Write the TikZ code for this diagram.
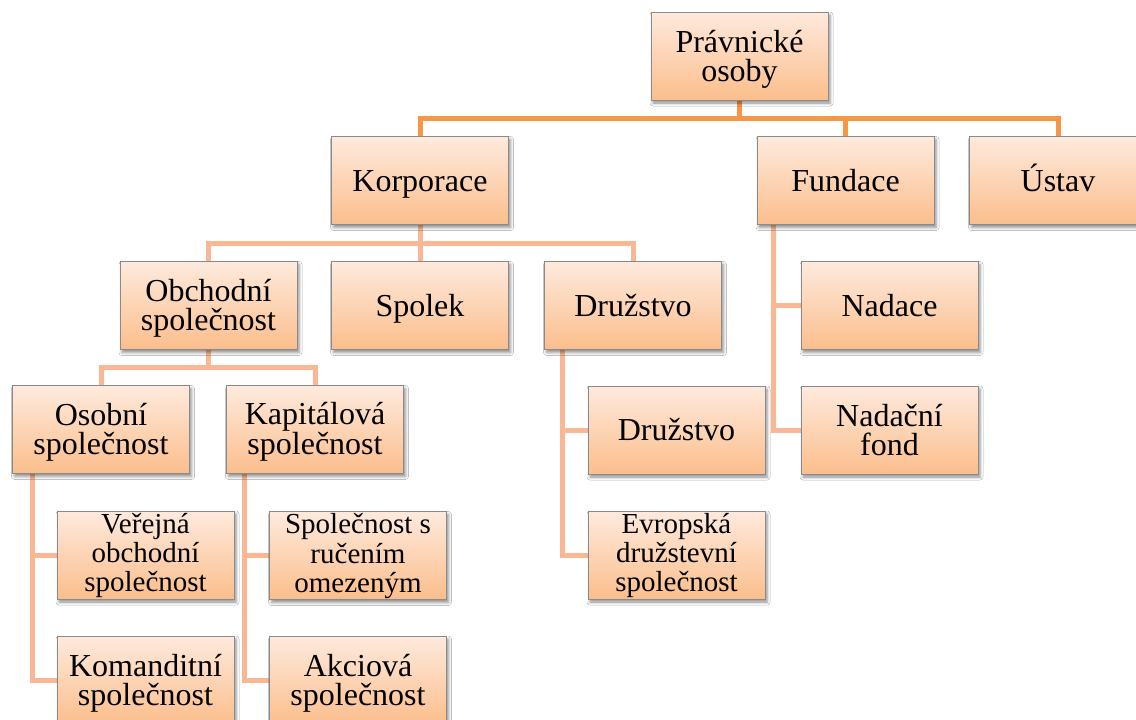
\documentclass[tikz,border=0pt]{standalone}
\usepackage{fontspec}
\setmainfont{Liberation Serif}
\usetikzlibrary{shadows.blur}
\definecolor{boxtop}{HTML}{FEEADD}
\definecolor{boxbot}{HTML}{FBBE8C}
\definecolor{boxline}{HTML}{8A8A8A}
\definecolor{linkdark}{HTML}{F79646}
\definecolor{linklight}{HTML}{F9B893}
\tikzset{
  slot/.style={minimum width=177pt, minimum height=88pt, inner sep=0pt},
  box/.style={slot, draw=boxline, line width=1pt, top color=boxtop, bottom color=boxbot,
    align=center, font=\fontsize{32}{29}\selectfont,
    blur shadow={shadow xshift=2pt, shadow yshift=-3pt, shadow blur radius=3pt, shadow opacity=45}},
  % fixed text extents keep the last baseline at the same place in every box
  oneline/.style={box, text height=21pt, text depth=0pt},
  twoline/.style={box, text height=50pt, text depth=0pt},
  threeline/.style={box, font=\fontsize{29}{29.2}\selectfont, text height=73.4pt, text depth=0pt},
  toplink/.style={draw=linkdark, line width=5pt},
  sublink/.style={draw=linklight, line width=5pt},
}
\begin{document}
\begin{tikzpicture}[x=1pt,y=-1pt]
\useasboundingbox (0,0) rectangle (1136,720);
\clip (0,0) rectangle (1136,720);
\fill[white] (0,0) rectangle (1136,720);

% centres of the boxes
\coordinate (cpo) at (739.5,56);
\coordinate (ckor) at (420,180.5);
\coordinate (cfun) at (845.5,180.5);
\coordinate (cust) at (1058,180.5);
\coordinate (cobch) at (208.5,305.5);
\coordinate (cspol) at (420,305.5);
\coordinate (cdruz) at (633,305.5);
\coordinate (cnad) at (889.5,305.5);
\coordinate (cosob) at (101,429.5);
\coordinate (ckap) at (315,429.5);
\coordinate (cdruzb) at (676.5,430);
\coordinate (cnf) at (889.5,430);
\coordinate (cver) at (145.5,555);
\coordinate (csro) at (358,555.5);
\coordinate (cevr) at (676.5,555);
\coordinate (ckom) at (145.5,680);
\coordinate (cakc) at (358,680);

% empty slots give the connectors their anchors
\path
  (cpo) node[slot] (po) {}
  (ckor) node[slot] (kor) {}
  (cfun) node[slot] (fun) {}
  (cust) node[slot] (ust) {}
  (cobch) node[slot] (obch) {}
  (cspol) node[slot] (spol) {}
  (cdruz) node[slot] (druz) {}
  (cnad) node[slot] (nad) {}
  (cosob) node[slot] (osob) {}
  (ckap) node[slot] (kap) {}
  (cdruzb) node[slot] (druzb) {}
  (cnf) node[slot] (nf) {}
  (cver) node[slot] (ver) {}
  (csro) node[slot] (sro) {}
  (cevr) node[slot] (evr) {}
  (ckom) node[slot] (kom) {}
  (cakc) node[slot] (akc) {};

% connectors
\draw[toplink] (po.south) -- ++(0,18.5) -| (kor.north);
\draw[toplink] (po.south) -- ++(0,18.5) -| (fun.north);
\draw[toplink] (po.south) -- ++(0,18.5) -| (ust.north);

\draw[sublink] (kor.south) -- ++(0,19) -| (obch.north);
\draw[sublink] (kor.south) -- (spol.north);
\draw[sublink] (kor.south) -- ++(0,19) -| (druz.north);

\draw[sublink] (obch.south) -- ++(0,18) -| (osob.north);
\draw[sublink] (obch.south) -- ++(0,18) -| (kap.north);

\draw[sublink] ([xshift=17pt]fun.south west) |- (nad.west);
\draw[sublink] ([xshift=17pt]fun.south west) |- (nf.west);

\draw[sublink] ([xshift=18pt]druz.south west) |- (druzb.west);
\draw[sublink] ([xshift=18pt]druz.south west) |- (evr.west);

\draw[sublink] ([xshift=20pt]osob.south west) |- (ver.west);
\draw[sublink] ([xshift=20pt]osob.south west) |- (kom.west);

\draw[sublink] ([xshift=18pt]kap.south west) |- (sro.west);
\draw[sublink] ([xshift=18pt]kap.south west) |- (akc.west);

% boxes
\node[twoline] at (cpo) {Právnické\\osoby};
\node[oneline] at (ckor) {Korporace};
\node[oneline] at (cfun) {Fundace};
\node[oneline] at (cust) {Ústav};
\node[twoline] at (cobch) {Obchodní\\společnost};
\node[oneline] at (cspol) {Spolek};
\node[oneline] at (cdruz) {Družstvo};
\node[oneline] at (cnad) {Nadace};
\node[twoline] at (cosob) {Osobní\\společnost};
\node[twoline] at (ckap) {Kapitálová\\společnost};
\node[oneline] at (cdruzb) {Družstvo};
\node[twoline] at (cnf) {Nadační\\fond};
\node[threeline] at (cver) {Veřejná\\obchodní\\společnost};
\node[threeline] at (csro) {Společnost s\\ručením\\omezeným};
\node[threeline] at (cevr) {Evropská\\družstevní\\společnost};
\node[twoline] at (ckom) {Komanditní\\společnost};
\node[twoline] at (cakc) {Akciová\\společnost};
\end{tikzpicture}
\end{document}
